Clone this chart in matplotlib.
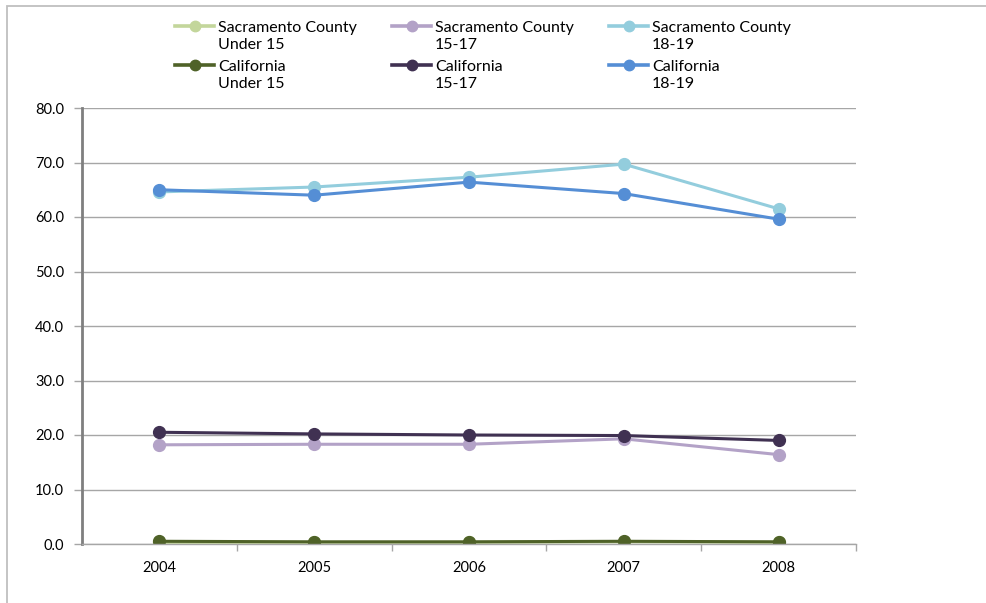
import matplotlib
matplotlib.use("Agg")
import matplotlib.pyplot as plt
from matplotlib.patches import Rectangle
from matplotlib.lines import Line2D
from matplotlib.ticker import FixedLocator, NullFormatter

plt.rcParams['font.family'] = ['Lato', 'DejaVu Sans']

years = ["2004", "2005", "2006", "2007", "2008"]

sac_under15 = [0.3, 0.3, 0.3, 0.4, 0.3]
sac_15_17 = [18.2, 18.3, 18.3, 19.3, 16.4]
sac_18_19 = [64.6, 65.5, 67.3, 69.7, 61.5]
ca_under15 = [0.5, 0.4, 0.4, 0.5, 0.4]
ca_15_17 = [20.5, 20.2, 20.0, 19.9, 19.0]
ca_18_19 = [65.0, 64.0, 66.4, 64.3, 59.6]

y_ticks = [0, 10, 20, 30, 40, 50, 60, 70, 80]

series = [
    ("Sacramento County\nUnder 15", sac_under15, "#C3D69B"),
    ("Sacramento County\n15-17", sac_15_17, "#B3A2C7"),
    ("Sacramento County\n18-19", sac_18_19, "#93CDDD"),
    ("California\nUnder 15", ca_under15, "#4F6228"),
    ("California\n15-17", ca_15_17, "#403152"),
    ("California\n18-19", ca_18_19, "#558ED5"),
]

W, H = 986, 603
fig = plt.figure(figsize=(W / 100, H / 100), dpi=100)


def fx(px):
    return px / W


def fy(py):
    return 1 - py / H


# outer chart frame
fig.patches.append(Rectangle((fx(7), -0.01), 1.0, fy(6) + 0.01,
                             transform=fig.transFigure, fill=False,
                             edgecolor="#BFBFBF", linewidth=1.3))

ax = fig.add_axes([fx(82), fy(544), (856 - 82) / W, (544 - 108) / H])

x = list(range(len(years)))
handles = []
for label, vals, color in series:
    h, = ax.plot(x, vals, color=color, linewidth=2.2, marker="o",
                 markersize=8.5, label=label, solid_capstyle="round")
    handles.append(h)

ax.set_xlim(-0.5, len(years) - 0.5)
ax.set_ylim(0, 80)
ax.set_yticks(y_ticks)
ax.set_yticklabels([f"{v:.1f}" for v in y_ticks])
ax.set_xticks(x)
ax.set_xticklabels(years)
ax.xaxis.set_minor_locator(FixedLocator([i + 0.5 for i in range(len(years))]))
ax.xaxis.set_minor_formatter(NullFormatter())

ax.grid(axis="y", color="#A6A6A6", linewidth=1.0)
ax.set_axisbelow(True)
for s in ["top", "right"]:
    ax.spines[s].set_visible(False)
ax.spines["left"].set_color("#7F7F7F")
ax.spines["left"].set_linewidth(2.0)
ax.spines["bottom"].set_color("#A6A6A6")
ax.spines["bottom"].set_linewidth(1.0)

ax.tick_params(axis="y", length=6, width=1, color="#A6A6A6", labelsize=10.5,
               pad=7, labelcolor="#000000")
ax.tick_params(axis="x", which="major", length=0, labelsize=10.5, pad=12)
ax.tick_params(axis="x", which="minor", length=5, width=1, color="#A6A6A6")

# legend: three columns, two entries each, key aligned with first text line
cols_x = [175, 392, 609]
rows_y = [26, 65]
line_gap = 17
for i, h in enumerate(handles):
    cx = cols_x[i % 3]
    ry = rows_y[i // 3]
    fig.add_artist(Line2D([fx(cx), fx(cx + 39)], [fy(ry), fy(ry)],
                          transform=fig.transFigure, color=h.get_color(),
                          linewidth=2.6))
    fig.add_artist(Line2D([fx(cx + 19.5)], [fy(ry)],
                          transform=fig.transFigure, color=h.get_color(),
                          marker="o", markersize=7.5, linestyle="none"))
    for k, part in enumerate(h.get_label().split("\n")):
        fig.text(fx(cx + 43), fy(ry + 2 + k * line_gap), part, fontsize=11.5,
                 ha="left", va="center")

fig.savefig("out.png", dpi=100)
